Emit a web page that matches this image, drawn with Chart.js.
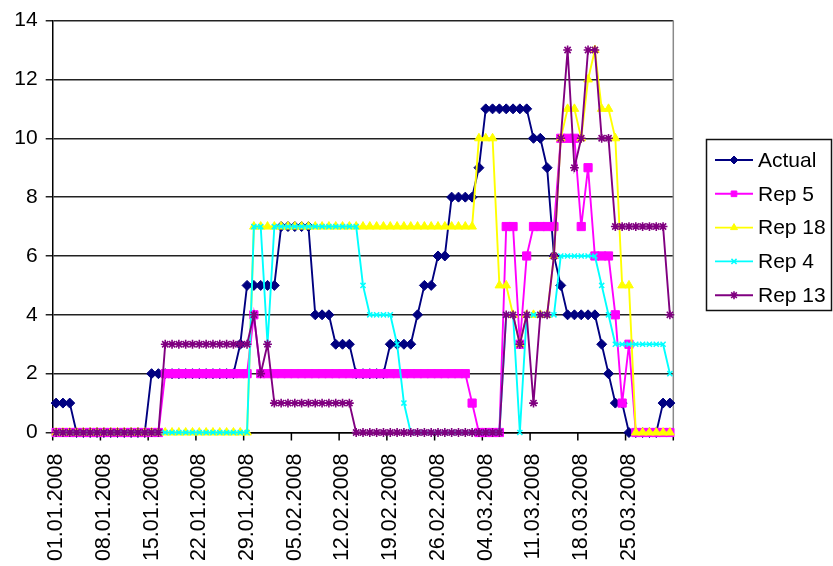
<!DOCTYPE html>
<html>
<head>
<meta charset="utf-8">
<script src="https://cdn.jsdelivr.net/npm/chart.js@4/dist/chart.umd.min.js"></script>
<style>
  html, body { margin: 0; padding: 0; background: #fff; overflow: hidden; }
  canvas { display: block; }
</style>
</head>
<body>
<canvas id="chart" width="833" height="566"></canvas>
<script>
// Daily categories 01.01.2008 – 31.03.2008
const firstDay = [2008, 0, 1];
const dayCount = 91;
const dates = [];
for (let d = 0; d < dayCount; d++) {
  const dt = new Date(firstDay[0], firstDay[1], firstDay[2] + d);
  dates.push(String(dt.getDate()).padStart(2, '0') + '.' +
             String(dt.getMonth() + 1).padStart(2, '0') + '.' + dt.getFullYear());
}
const labelStep = 7;          // a date label and tick mark every week
const yMin = 0, yMax = 14, yStep = 2;

// One row per week
const actual = [
  1,1,1,0,0,0,0,
  0,0,0,0,0,0,0,
  2,2,2,2,2,2,2,
  2,2,2,2,2,2,3,
  5,5,5,5,5,7,7,
  7,7,7,4,4,4,3,
  3,3,2,2,2,2,2,
  3,3,3,3,4,5,5,
  6,6,8,8,8,8,9,
  11,11,11,11,11,11,11,
  10,10,9,6,5,4,4,
  4,4,4,3,2,1,1,
  0,0,0,0,0,1,1
];
const rep5 = [
  0,0,0,0,0,0,0,
  0,0,0,0,0,0,0,
  0,0,2,2,2,2,2,
  2,2,2,2,2,2,2,
  2,4,2,2,2,2,2,
  2,2,2,2,2,2,2,
  2,2,2,2,2,2,2,
  2,2,2,2,2,2,2,
  2,2,2,2,2,1,0,
  0,0,0,7,7,3,6,
  7,7,7,7,10,10,10,
  7,9,6,6,6,4,1,
  3,0,0,0,0,0,0
];
const rep18 = [
  0,0,0,0,0,0,0,
  0,0,0,0,0,0,0,
  0,0,0,0,0,0,0,
  0,0,0,0,0,0,0,
  0,7,7,7,7,7,7,
  7,7,7,7,7,7,7,
  7,7,7,7,7,7,7,
  7,7,7,7,7,7,7,
  7,7,7,7,7,7,10,
  10,10,5,5,4,3,4,
  4,4,4,6,10,11,11,
  10,12,13,11,11,10,5,
  5,0,0,0,0,0,0
];
const rep4 = [
  0,0,0,0,0,0,0,
  0,0,0,0,0,0,0,
  0,0,0,0,0,0,0,
  0,0,0,0,0,0,0,
  0,7,7,3,7,7,7,
  7,7,7,7,7,7,7,
  7,7,7,5,4,4,4,
  4,3,1,0,0,0,0,
  0,0,0,0,0,0,0,
  0,0,0,4,4,0,4,
  4,4,4,4,6,6,6,
  6,6,6,5,4,3,3,
  3,3,3,3,3,3,2
];
const rep13 = [
  0,0,0,0,0,0,0,
  0,0,0,0,0,0,0,
  0,0,3,3,3,3,3,
  3,3,3,3,3,3,3,
  3,4,2,3,1,1,1,
  1,1,1,1,1,1,1,
  1,1,0,0,0,0,0,
  0,0,0,0,0,0,0,
  0,0,0,0,0,0,0,
  0,0,0,4,4,3,4,
  1,4,4,6,10,13,9,
  10,13,13,10,10,7,7,
  7,7,7,7,7,7,4
];

const seriesNames = ['Actual', 'Rep 5', 'Rep 18', 'Rep 4', 'Rep 13'];

const FONT = '"Liberation Sans", Arial, sans-serif';
Chart.defaults.font.family = FONT;
Chart.defaults.font.size = 21;
Chart.defaults.color = '#000';

function series(label, data, color, style, radius, order, pointBorder) {
  return {
    label, data, order,
    borderColor: color,
    backgroundColor: color,
    borderWidth: 1.9,
    pointStyle: style,
    pointRadius: radius,
    pointHoverRadius: radius,
    pointBackgroundColor: color,
    pointBorderColor: color,
    pointBorderWidth: pointBorder,
    tension: 0,
    clip: false
  };
}

// Weekly tick marks under the date axis, right frame of the plot, boxed legend
const frameAndLegend = {
  id: 'frameAndLegend',
  beforeDatasetsDraw(chart) {
    const { ctx, chartArea: a } = chart;
    const xs = chart.scales.x;
    const half = (xs.getPixelForValue(1) - xs.getPixelForValue(0)) / 2;
    ctx.save();
    ctx.strokeStyle = '#8a8a8a';
    ctx.lineWidth = 1.5;
    ctx.beginPath();
    ctx.moveTo(a.right, a.top);
    ctx.lineTo(a.right, a.bottom);
    ctx.stroke();
    ctx.strokeStyle = '#000';
    ctx.beginPath();
    for (let i = 0; i <= dates.length; i += labelStep) {
      const px = xs.getPixelForValue(i) - half;
      ctx.moveTo(px, a.bottom);
      ctx.lineTo(px, a.bottom + 8);
    }
    ctx.stroke();
    ctx.restore();
  },
  afterDraw(chart) {
    const ctx = chart.ctx;
    const box = { x: 706.5, y: 139.5, w: 125, h: 171 };
    const rowTop = 160, rowGap = 33.8;
    ctx.save();
    ctx.strokeStyle = '#111';
    ctx.lineWidth = 1.5;
    ctx.strokeRect(box.x, box.y, box.w, box.h);
    chart.data.datasets.forEach((ds, i) => {
      const y = rowTop + i * rowGap;
      ctx.strokeStyle = ds.borderColor;
      ctx.lineWidth = 1.9;
      ctx.beginPath();
      ctx.moveTo(715, y);
      ctx.lineTo(753, y);
      ctx.stroke();
      ctx.fillStyle = ds.pointBackgroundColor;
      ctx.strokeStyle = ds.pointBorderColor;
      ctx.lineWidth = ds.pointBorderWidth;
      Chart.helpers.drawPoint(ctx, {
        pointStyle: ds.pointStyle,
        radius: Math.min(ds.pointRadius, 4),
        rotation: 0,
        borderWidth: ds.pointBorderWidth
      }, 734, y);
      ctx.fillStyle = '#000';
      ctx.font = '21px ' + FONT;
      ctx.textBaseline = 'middle';
      ctx.textAlign = 'left';
      ctx.fillText(ds.label, 758, y + 1);
    });
    ctx.restore();
  }
};

new Chart(document.getElementById('chart'), {
  type: 'line',
  data: {
    labels: dates,
    datasets: [
      series(seriesNames[0], actual, '#000080', 'rectRot', 5,   5, 1),
      series(seriesNames[1], rep5,   '#ff00ff', 'rect',    5.8, 4, 1),
      series(seriesNames[2], rep18,  '#ffff00', 'triangle',5,   3, 1),
      series(seriesNames[3], rep4,   '#00ffff', 'crossRot',3.6, 2, 1.5),
      series(seriesNames[4], rep13,  '#800080', 'star',    4.4, 1, 1.6)
    ]
  },
  options: {
    responsive: false,
    animation: false,
    devicePixelRatio: 1,
    layout: { padding: { left: 0, right: 159.7, top: 13.7, bottom: 0 } },
    plugins: {
      legend: { display: false },
      tooltip: { enabled: false }
    },
    scales: {
      x: {
        type: 'category',
        offset: true,
        afterFit(scale) { scale.height = 133.5; },
        grid: {
          offset: true,
          drawOnChartArea: false,
          drawTicks: true,
          tickLength: 8,
          color: 'rgba(0,0,0,0)'
        },
        border: { display: true, color: '#000', width: 1.5 },
        ticks: {
          autoSkip: false,
          minRotation: 90,
          maxRotation: 90,
          padding: 13,
          color: '#000',
          font: { size: 21.5 },
          callback: (v, i) => (i % labelStep === 0 ? dates[i] : '')
        }
      },
      y: {
        min: yMin,
        max: yMax,
        afterFit(scale) { scale.width = 52.7; },
        grid: {
          color: '#222',
          lineWidth: 1.5,
          drawTicks: true,
          tickLength: 7
        },
        border: { display: true, color: '#000', width: 1.5 },
        ticks: {
          stepSize: yStep,
          padding: 8,
          color: '#000',
          font: { size: 21 }
        }
      }
    }
  },
  plugins: [frameAndLegend]
});
</script>
</body>
</html>
